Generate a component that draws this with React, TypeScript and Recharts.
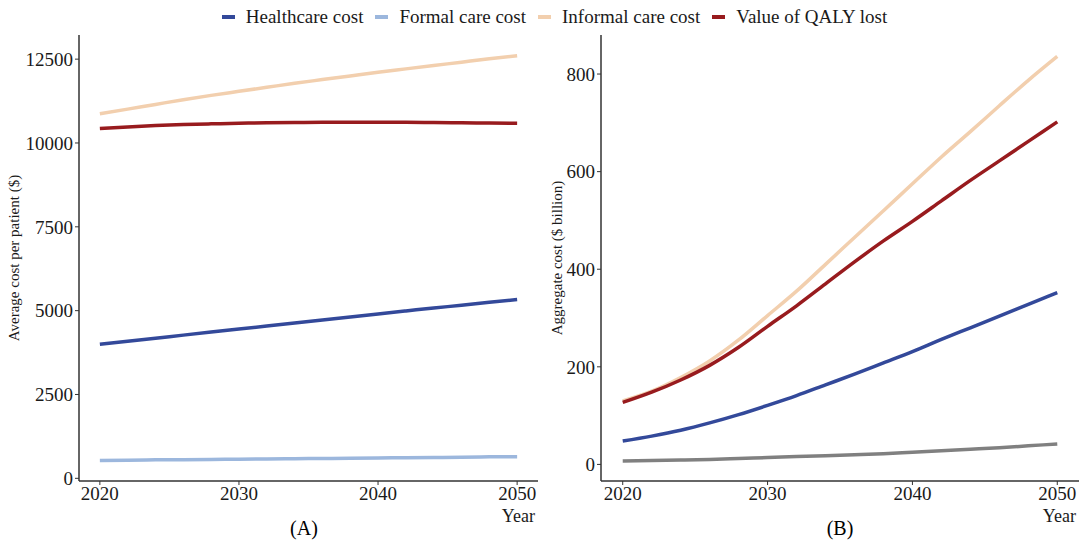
import { Line, LineChart, XAxis, YAxis } from "recharts";

const years = [2020, 2022, 2024, 2026, 2028, 2030, 2032, 2034, 2036, 2038, 2040, 2042, 2044, 2046, 2048, 2050];

// Panel A: average cost per patient ($)
const avgHealthcare = [4000, 4090, 4180, 4270, 4360, 4450, 4540, 4630, 4720, 4810, 4900, 4990, 5080, 5160, 5250, 5330];
const avgFormal = [530, 540, 550, 555, 560, 570, 575, 585, 590, 600, 605, 615, 620, 630, 640, 645];
const avgInformal = [10870, 11010, 11150, 11290, 11420, 11540, 11660, 11780, 11890, 12000, 12110, 12210, 12310, 12410, 12510, 12600];
const avgQaly = [10430, 10480, 10520, 10550, 10570, 10590, 10600, 10610, 10620, 10620, 10620, 10620, 10610, 10600, 10595, 10590];

// Panel B: aggregate cost ($ billion)
const aggHealthcare = [48, 58, 70, 85, 102, 121, 141, 163, 185, 208, 231, 256, 280, 304, 328, 352];
const aggFormal = [7, 8, 9, 10, 12, 14, 16, 18, 20, 22, 25, 28, 31, 34, 38, 42];
const aggInformal = [130, 150, 178, 212, 255, 305, 355, 410, 465, 520, 575, 630, 682, 735, 787, 836];
const aggQaly = [127, 148, 173, 203, 240, 283, 325, 370, 415, 458, 498, 540, 582, 622, 662, 702];

const xTicks = [2020, 2030, 2040, 2050];
const yTicksA = [0, 2500, 5000, 7500, 10000, 12500];
const yTicksB = [0, 200, 400, 600, 800];

const legendItems = [
  { label: "Healthcare cost", color: "#33499a" },
  { label: "Formal care cost", color: "#9cb7dd" },
  { label: "Informal care cost", color: "#f2cfae" },
  { label: "Value of QALY lost", color: "#981b1e" },
];

const dataA = years.map((year, i) => ({
  year,
  healthcare: avgHealthcare[i],
  formal: avgFormal[i],
  informal: avgInformal[i],
  qaly: avgQaly[i],
}));

const dataB = years.map((year, i) => ({
  year,
  healthcare: aggHealthcare[i],
  formal: aggFormal[i],
  informal: aggInformal[i],
  qaly: aggQaly[i],
}));

const FONT = '"Liberation Serif", "Times New Roman", serif';
const TICK = { fontSize: 19, fill: "#1a1a1a", fontFamily: FONT };
const AXIS_LINE = { stroke: "#333", strokeWidth: 1.5 };

function Panel({
  data,
  width,
  yWidth,
  domain,
  yTicks,
  yLabel,
  labelOffset,
  formalColor,
}: {
  data: typeof dataA;
  width: number;
  yWidth: number;
  domain: [number, number];
  yTicks: number[];
  yLabel: string;
  labelOffset: number;
  formalColor: string;
}) {
  return (
    <LineChart width={width} height={543} data={data} margin={{ top: 35, right: 11, left: 0, bottom: 18 }}>
      <XAxis
        dataKey="year"
        type="number"
        domain={[2018.5, 2051.5]}
        ticks={xTicks}
        tick={TICK}
        tickSize={4}
        tickMargin={2}
        axisLine={AXIS_LINE}
        tickLine={{ stroke: "#333" }}
        height={44}
        label={{ value: "Year", position: "insideBottomRight", offset: 3, style: { fontSize: 18, fill: "#1a1a1a", fontFamily: FONT } }}
      />
      <YAxis
        type="number"
        domain={domain}
        ticks={yTicks}
        tick={TICK}
        tickSize={4}
        tickMargin={2}
        width={yWidth}
        axisLine={AXIS_LINE}
        tickLine={{ stroke: "#333" }}
        allowDataOverflow
        label={{
          value: yLabel,
          angle: -90,
          position: "insideLeft",
          offset: labelOffset,
          style: { textAnchor: "middle", fontSize: 15, fill: "#1a1a1a", fontFamily: FONT },
        }}
      />
      <Line type="monotone" dataKey="formal" stroke={formalColor} strokeWidth={3.5} dot={false} isAnimationActive={false} />
      <Line type="monotone" dataKey="healthcare" stroke="#33499a" strokeWidth={3.5} dot={false} isAnimationActive={false} />
      <Line type="monotone" dataKey="informal" stroke="#f2cfae" strokeWidth={3.5} dot={false} isAnimationActive={false} />
      <Line type="monotone" dataKey="qaly" stroke="#981b1e" strokeWidth={3.5} dot={false} isAnimationActive={false} />
    </LineChart>
  );
}

export default function App() {
  return (
    <div style={{ position: "absolute", left: 0, top: 0, width: 1090, height: 543, background: "#fff", fontFamily: FONT }}>
      <div
        style={{
          position: "absolute",
          top: 6,
          left: 0,
          width: 1121,
          display: "flex",
          justifyContent: "center",
          alignItems: "center",
          fontSize: 19,
          color: "#1a1a1a",
          whiteSpace: "nowrap",
        }}
      >
        {legendItems.map((it) => (
          <div key={it.label} style={{ display: "flex", alignItems: "center", marginRight: 12 }}>
            <span style={{ display: "inline-block", width: 13, height: 4, background: it.color, marginRight: 11 }} />
            <span>{it.label}</span>
          </div>
        ))}
      </div>

      <div style={{ position: "absolute", left: 0, top: 0 }}>
        <Panel
          data={dataA}
          width={549}
          yWidth={79}
          domain={[-80, 13220]}
          yTicks={yTicksA}
          yLabel="Average cost per patient ($)"
          labelOffset={14}
          formalColor="#9cb7dd"
        />
      </div>
      <div style={{ position: "absolute", left: 545, top: 0 }}>
        <Panel
          data={dataB}
          width={545}
          yWidth={56}
          domain={[-34, 880]}
          yTicks={yTicksB}
          yLabel="Aggregate cost ($ billion)"
          labelOffset={12}
          formalColor="#808080"
        />
      </div>

      <div style={{ position: "absolute", left: 259, top: 516, width: 90, textAlign: "center", fontSize: 20, lineHeight: "24px" }}>(A)</div>
      <div style={{ position: "absolute", left: 795, top: 516, width: 90, textAlign: "center", fontSize: 20, lineHeight: "24px" }}>(B)</div>
    </div>
  );
}
